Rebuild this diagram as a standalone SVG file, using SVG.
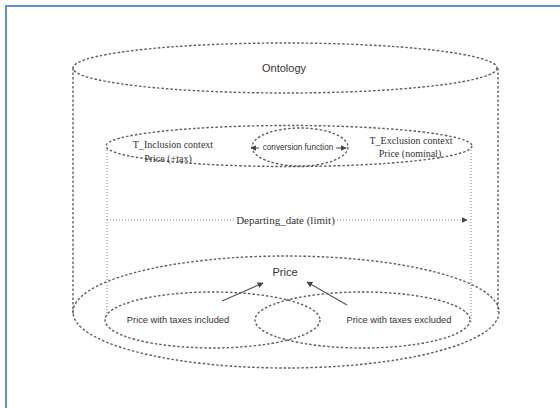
<svg xmlns="http://www.w3.org/2000/svg" width="560" height="408" viewBox="0 0 560 408">
<style>
.dash{fill:none;stroke:#5e5e5e;stroke-width:1.4;stroke-dasharray:2.5 2}
.dot{fill:none;stroke:#808080;stroke-width:1;stroke-dasharray:1 2}
.sans{font-family:"Liberation Sans",Arial,sans-serif;fill:#333;text-anchor:middle}
.serif{font-family:"Liberation Serif","Times New Roman",serif;fill:#333;text-anchor:middle}
.arr{stroke:#555;stroke-width:1.1;fill:none}
</style>
<defs>
<marker id="ah" viewBox="0 0 10 10" refX="9" refY="5" markerWidth="6" markerHeight="6" orient="auto-start-reverse" markerUnits="userSpaceOnUse">
<path d="M0,0 L10,5 L0,10 z" fill="#444"/>
</marker>
</defs>
<rect width="560" height="408" fill="#fff"/>
<path d="M6,408 V6 H560" fill="none" stroke="#5b8fd6" stroke-width="2"/>

<g id="ontology">
<ellipse class="dash" cx="285" cy="68" rx="212" ry="25"/>
<line class="dash" x1="73" y1="68" x2="73" y2="314"/>
<line class="dash" x1="498" y1="68" x2="498" y2="312"/>
<text class="sans" x="284" y="72" font-size="11">Ontology</text>
</g>

<g id="context">
<ellipse class="dash" cx="289" cy="146" rx="183" ry="20.5"/>
<line class="dot" x1="107" y1="150" x2="107" y2="318"/>
<line class="dot" x1="471" y1="147" x2="471" y2="322"/>
<text class="serif" x="173" y="147.5" font-size="10">T_Inclusion context</text>
<text class="serif" x="168" y="161.5" font-size="10">Price (+tax)</text>
<text class="serif" x="411" y="144" font-size="10">T_Exclusion context</text>
<text class="serif" x="410" y="157" font-size="10">Price (nominal)</text>
</g>

<g id="conversion">
<ellipse class="dash" cx="300" cy="147" rx="48" ry="19"/>
<text class="sans" x="298" y="150" font-size="8.2">conversion function</text>
</g>

<g id="price">
<ellipse class="dash" cx="286" cy="312" rx="213" ry="56"/>
<text class="sans" x="285" y="276" font-size="11">Price</text>
</g>

<g id="included">
<ellipse class="dash" cx="212.5" cy="320" rx="107.5" ry="28"/>
<text class="sans" x="178" y="322.5" font-size="9.3">Price with taxes included</text>
</g>

<g id="excluded">
<ellipse class="dash" cx="362.5" cy="320" rx="107.5" ry="28"/>
<text class="sans" x="399" y="322.5" font-size="9.3">Price with taxes excluded</text>
</g>

<g id="connectors">
<line class="arr" x1="251" y1="148" x2="259" y2="148" marker-start="url(#ah)"/>
<line class="arr" x1="336" y1="148" x2="346" y2="148" marker-end="url(#ah)"/>
<line class="dot" x1="107" y1="220" x2="234" y2="220"/>
<line class="dot" x1="337" y1="220" x2="467" y2="220" marker-end="url(#ah)"/>
<line class="arr" x1="222" y1="301" x2="263" y2="283" marker-end="url(#ah)"/>
<line class="arr" x1="347" y1="305" x2="307" y2="282" marker-end="url(#ah)"/>
</g>
<g id="departing">
<text class="serif" x="285.5" y="224" font-size="11">Departing_date (limit)</text>
</g>
</svg>
